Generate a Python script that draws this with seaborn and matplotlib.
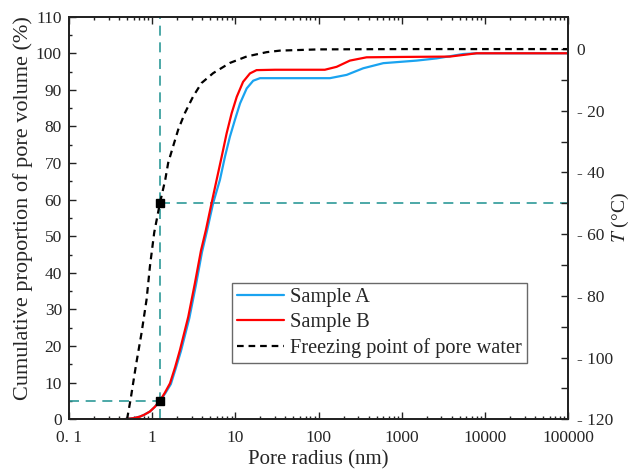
import numpy as np
import pandas as pd
import seaborn as sns
import matplotlib.pyplot as plt
from matplotlib.ticker import FixedLocator, MultipleLocator, LogLocator, NullFormatter

# values
radius_a = [0.1, 0.45, 0.5, 0.6, 0.71, 0.8, 0.94, 1.08, 1.24, 1.44, 1.68, 1.93, 2.22, 2.8, 3.37,
            3.97, 4.59, 5.42, 6.53, 7.5, 8.61, 9.89, 11.4, 13.7, 16.4, 19.8, 30, 60, 137,
            218, 344, 600, 1510, 2620, 5480, 8000, 100000]
pct_a = [0, 0, 0.1, 0.3, 0.7, 1.2, 2.1, 3.4, 5.0, 7.1, 9.6, 14.0, 18.6, 27.6, 36.8,
         45.6, 51.7, 59.1, 65.4, 71.7, 77.2, 81.8, 86.3, 90.4, 92.5, 93.2, 93.2, 93.2, 93.2,
         94.1, 95.9, 97.3, 98.0, 98.6, 99.8, 100, 100]

radius_b = [0.1, 0.45, 0.5, 0.6, 0.71, 0.8, 0.94, 1.08, 1.24, 1.42, 1.64, 1.89, 2.16, 2.72,
            3.27, 3.86, 4.43, 5.19, 5.96, 6.85, 7.86, 9.03, 10.4, 12.4, 15.0, 18.0, 30, 60,
            119, 165, 238, 378, 1000, 3790, 7940, 100000]
pct_b = [0, 0, 0.1, 0.3, 0.7, 1.2, 2.1, 3.4, 5.0, 7.2, 9.8, 14.2, 18.9, 28.0,
         37.2, 46.0, 51.7, 59.1, 65.4, 71.7, 78.1, 83.6, 88.1, 92.2, 94.5, 95.4, 95.5, 95.5,
         95.5, 96.3, 98.0, 98.9, 99.0, 99.1, 100, 100]

radius_fp = [0.5, 0.552, 0.638, 0.748, 0.859, 0.942, 1.06, 1.24, 1.44, 1.56, 1.79, 2.06,
             2.48, 3.12, 3.93, 5.42, 8.6, 13.7, 23.8, 34.4, 100, 1000, 100000]
temp_fp = [-120, -113.5, -102.7, -91.9, -81.1, -70.4, -59.5, -50, -42.3, -36.9, -31.5, -26.1,
           -20.7, -15.3, -11.0, -7.8, -4.5, -2.4, -1.0, -0.5, -0.1, 0, 0]

# guide point: r where freezing point is -50 C
guide_r = 1.24
guide_pct = [59.1, 5.0]

x_ticks = [0.1, 1, 10, 100, 1000, 10000, 100000]
x_labels = ['0. 1', '1', '10', '100', '1000', '10000', '100000']
t_ticks = [0, -20, -40, -60, -80, -100, -120]
t_labels = ['0', '- 20', '- 40', '- 60', '- 80', '- 100', '- 120']

sns.set_style("ticks")
plt.rcParams['font.family'] = ['Liberation Serif', 'DejaVu Serif']
plt.rcParams['mathtext.fontset'] = 'stix'
plt.rcParams['xtick.direction'] = 'in'
plt.rcParams['ytick.direction'] = 'in'

teal = '#2E9A98'

fig, ax = plt.subplots(figsize=(6.32, 4.70), dpi=100)
fig.subplots_adjust(left=0.109, right=0.899, top=0.9645, bottom=0.108)

df_a = pd.DataFrame({'r': radius_a, 'p': pct_a})
df_b = pd.DataFrame({'r': radius_b, 'p': pct_b})
sns.lineplot(data=df_a, x='r', y='p', ax=ax, color='#1AA3F0', lw=1.6, label='Sample A')
sns.lineplot(data=df_b, x='r', y='p', ax=ax, color='#FF0000', lw=1.6, label='Sample B')

# guide lines
ax.axvline(guide_r, color=teal, lw=1.2, ls=(0, (6, 4)), zorder=1)
ax.plot([guide_r, 100000], [guide_pct[0]] * 2, color=teal, lw=1.2, ls=(0, (6, 4)), zorder=1)
ax.plot([0.1, guide_r], [guide_pct[1]] * 2, color=teal, lw=1.2, ls=(0, (6, 4)), zorder=1)
ax.plot([guide_r] * 2, guide_pct, 's', color='black', ms=6, zorder=5)

ax.set_xscale('log')
ax.set_xlim(0.1, 100000)
ax.set_ylim(0, 110)
ax.xaxis.set_major_locator(FixedLocator(x_ticks))
ax.set_xticklabels(x_labels)
ax.xaxis.set_minor_locator(LogLocator(base=10, subs=np.arange(2, 10)))
ax.xaxis.set_minor_formatter(NullFormatter())
ax.yaxis.set_major_locator(MultipleLocator(10))
ax.yaxis.set_minor_locator(MultipleLocator(5))
ax.tick_params(which='both', top=True, labelsize=12.5, width=1, color='#222222')
ax.tick_params(which='major', length=5)
ax.tick_params(which='minor', length=2.5)
ax.tick_params(axis='x', pad=8)
ax.tick_params(axis='y', pad=5)
ax.set_xlabel('Pore radius (nm)', fontsize=15, va='center')
ax.xaxis.set_label_coords(0.5, -0.101)
ax.set_ylabel('Cumulative proportion of pore volume (%)', fontsize=16, va='center')
ax.yaxis.set_label_coords(-0.092, 0.525)

ax2 = ax.twinx()
df_fp = pd.DataFrame({'r': radius_fp, 't': temp_fp})
sns.lineplot(data=df_fp, x='r', y='t', ax=ax2, color='black', lw=1.6,
             ls=(0, (3, 2.2)), label='Freezing point of pore water')
ax2.set_ylim(-120, 10.5)
ax2.yaxis.set_major_locator(FixedLocator(t_ticks))
ax2.set_yticklabels(t_labels)
ax2.yaxis.set_minor_locator(FixedLocator(np.arange(-110, 0, 20)))
ax2.tick_params(which='both', labelsize=12.5, width=1, color='#222222', pad=6)
ax2.tick_params(which='major', length=5)
ax2.tick_params(which='minor', length=5)
ax2.set_ylabel('$T$ (°C)', fontsize=14, va='center')
ax2.yaxis.set_label_coords(1.104, 0.5)

for a in (ax, ax2):
    for s in a.spines.values():
        s.set_linewidth(1.3)
        s.set_color('#222222')

h1, l1 = ax.get_legend_handles_labels()
h2, l2 = ax2.get_legend_handles_labels()
ax.get_legend().remove()
ax2.get_legend().remove()
leg = ax2.legend(h1 + h2, l1 + l2, loc='upper left', bbox_to_anchor=(0.327, 0.339),
                 fontsize=14.7, frameon=True, fancybox=False, edgecolor='#444444',
                 handlelength=2.3, handletextpad=0.3, labelspacing=0.28, borderpad=0.25,
                 borderaxespad=0)
leg.get_frame().set_linewidth(1.0)

plt.savefig('out.png', dpi=100)
